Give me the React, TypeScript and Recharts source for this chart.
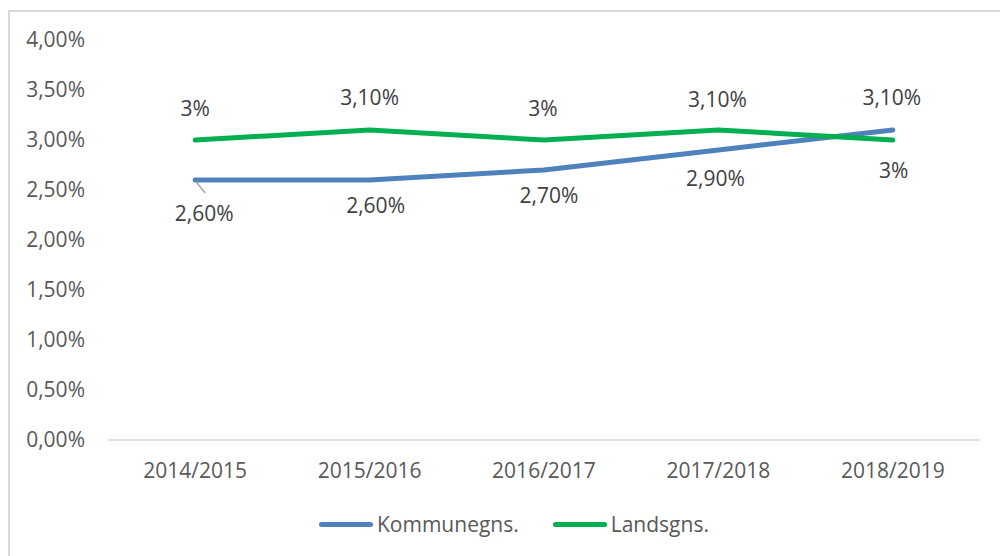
import React from 'react';
import { LineChart, Line, XAxis, YAxis, Legend, LabelList } from 'recharts';

const categories = ['2014/2015', '2015/2016', '2016/2017', '2017/2018', '2018/2019'];
const kommuneValues = [2.6, 2.6, 2.7, 2.9, 3.1];
const landsValues = [3.0, 3.1, 3.0, 3.1, 3.0];
const yTicks = [0, 0.5, 1, 1.5, 2, 2.5, 3, 3.5, 4];
const seriesNames = ['Kommunegns.', 'Landsgns.'];

const BLUE = '#4f81bd';
const GREEN = '#00b050';
const FONT = "'Open Sans', sans-serif";
const FS = 21;

// label offsets (styling) relative to the data point
const blueLabelOffsets = [[9, 33], [6, 25], [5, 25], [-3, 28], [-1, -33]];
const greenLabelOffsets = [[0, -32], [0, -33], [-1, -32], [-1, -31], [1, 30]];

const data = categories.map((c, i) => ({
  name: c,
  kommune: kommuneValues[i],
  lands: landsValues[i],
}));

const fmtTick = (v: number) => v.toFixed(2).replace('.', ',') + '%';
const fmtLabel = (v: number) =>
  Number.isInteger(v) ? `${v}%` : v.toFixed(2).replace('.', ',') + '%';

const makeLabel = (offsets: number[][], leader: boolean) => (props: any) => {
  const { x, y, value, index } = props;
  const [dx, dy] = offsets[index] || [0, -30];
  return (
    <g>
      {leader && index === 0 ? (
        <line x1={x + 1} y1={y + 2} x2={x + 10} y2={y + 13} stroke="#a6a6a6" strokeWidth={1.5} />
      ) : null}
      <text
        x={x + dx}
        y={y + dy}
        textAnchor="middle"
        dominantBaseline="central"
        fill="#404040"
        fontSize={FS}
        fontFamily={FONT}
      >
        {fmtLabel(value)}
      </text>
    </g>
  );
};

const LegendContent = () => (
  <div style={{ display: 'flex', alignItems: 'center', fontFamily: FONT, fontSize: FS, color: '#595959' }}>
    {[BLUE, GREEN].map((col, i) => (
      <div key={i} style={{ display: 'flex', alignItems: 'center', marginRight: i === 0 ? 34 : 0 }}>
        <div style={{ width: 54, height: 5, borderRadius: 3, background: col, marginRight: 4 }} />
        <span>{seriesNames[i]}</span>
      </div>
    ))}
  </div>
);

export default function App() {
  return (
    <div
      style={{
        position: 'fixed',
        left: 8,
        top: 10,
        width: 1000,
        height: 560,
        borderTop: '2px solid #d9d9d9',
        borderLeft: '2px solid #d9d9d9',
        boxSizing: 'border-box',
        fontFamily: FONT,
        overflow: 'hidden',
        background: '#fff',
      }}
    >
      <LineChart width={990} height={544} data={data} margin={{ top: 28, right: 20, left: 0, bottom: 86 }}>
        <XAxis
          dataKey="name"
          scale="band"
          axisLine={{ stroke: '#d9d9d9', strokeWidth: 1.5 }}
          tickLine={false}
          tickMargin={17}
          tick={{ fill: '#595959', fontSize: FS, fontFamily: FONT }}
          interval={0}
        />
        <YAxis
          domain={[0, 4]}
          ticks={yTicks}
          width={98}
          axisLine={false}
          tickLine={false}
          tickMargin={17}
          tickFormatter={fmtTick}
          tick={{ fill: '#595959', fontSize: FS, fontFamily: FONT }}
        />
        <Legend
          verticalAlign="middle"
          align="center"
          layout="horizontal"
          content={<LegendContent />}
          wrapperStyle={{ left: 309, top: 498, width: 520 }}
        />
        <Line
          dataKey="kommune"
          name={seriesNames[0]}
          stroke={BLUE}
          strokeWidth={5}
          strokeLinecap="round"
          strokeLinejoin="round"
          dot={false}
          isAnimationActive={false}
        >
          <LabelList dataKey="kommune" content={makeLabel(blueLabelOffsets, true)} />
        </Line>
        <Line
          dataKey="lands"
          name={seriesNames[1]}
          stroke={GREEN}
          strokeWidth={5}
          strokeLinecap="round"
          strokeLinejoin="round"
          dot={false}
          isAnimationActive={false}
        >
          <LabelList dataKey="lands" content={makeLabel(greenLabelOffsets, false)} />
        </Line>
      </LineChart>
    </div>
  );
}
